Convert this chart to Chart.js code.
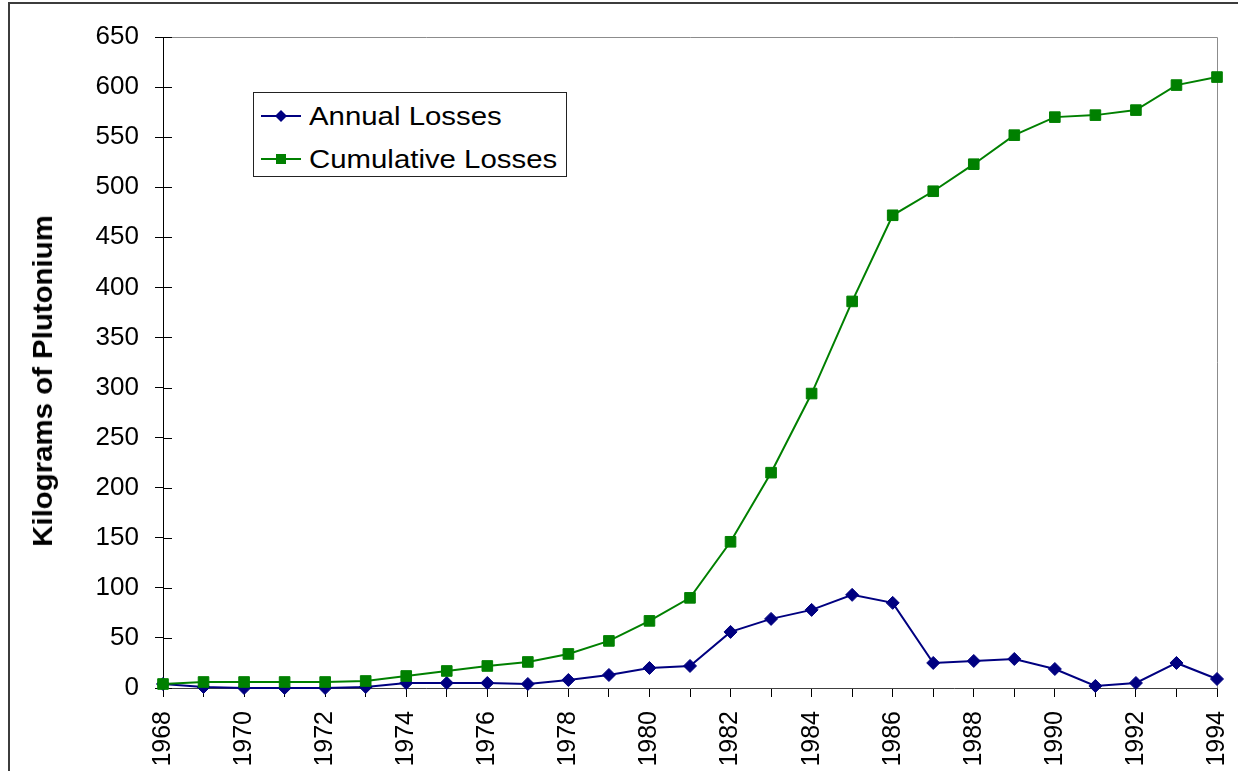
<!DOCTYPE html>
<html>
<head>
<meta charset="utf-8">
<title>Plutonium Losses</title>
<script src="https://cdn.jsdelivr.net/npm/chart.js@4/dist/chart.umd.min.js"></script>
<style>
  html, body { margin:0; padding:0; background:#fff; width:1238px; height:771px; overflow:hidden; }
  #wrap { position:relative; width:1238px; height:771px; overflow:hidden; font-family:"Liberation Sans", Arial, sans-serif; }
  /* outer frame, only left and top edges fall inside the view */
  #frame { position:absolute; left:8px; top:2px; width:1400px; height:900px;
           border-left:2px solid #3c3c3c; border-top:2px solid #3c3c3c; }
  #chartBox { position:absolute; left:0; top:0; width:1238px; height:800px; }
  #ytitle { position:absolute; left:43px; top:381px; white-space:nowrap;
            font-weight:bold; font-size:28px; color:#000;
            transform:translate(-50%,-50%) rotate(-90deg) scaleX(1.05); }
  #legend { position:absolute; left:253px; top:92px; width:312px; height:83px;
            border:1px solid #222; background:#fff; }
  #legend .row { position:absolute; left:0; height:30px; display:flex; align-items:center; }
  #legend svg { margin-left:7px; }
  #legend span { font-size:26px; color:#000; margin-left:8px; display:inline-block;
                 transform:scaleX(1.13); transform-origin:left center; white-space:nowrap; }
</style>
</head>
<body>
<div id="wrap">
  <div id="frame"></div>
  <div id="chartBox"><canvas id="lossChart" width="1238" height="800"></canvas></div>
  <div id="ytitle">Kilograms of Plutonium</div>
  <div id="legend">
    <div class="row" style="top:8px">
      <svg width="40" height="16"><line x1="0" y1="8" x2="40" y2="8" stroke="#000080" stroke-width="2"/>
        <polygon points="20,2 26,8 20,14 14,8" fill="#000080"/></svg>
      <span>Annual Losses</span>
    </div>
    <div class="row" style="top:51px">
      <svg width="40" height="16"><line x1="0" y1="8" x2="40" y2="8" stroke="#008000" stroke-width="2"/>
        <rect x="15" y="3" width="10" height="10" fill="#008000"/></svg>
      <span>Cumulative Losses</span>
    </div>
  </div>
</div>

<script>
// --- data ---
const years = ["1968","1969","1970","1971","1972","1973","1974","1975","1976","1977",
               "1978","1979","1980","1981","1982","1983","1984","1985","1986","1987",
               "1988","1989","1990","1991","1992","1993","1994"];
const annualLosses = [4, 1, 0, 0, 0, 1, 5, 5, 5, 4, 8, 13, 20, 22, 56, 69, 78, 93, 85,
                      25, 27, 29, 19, 2, 5, 25, 9];
const cumulativeLosses = [4, 6, 6, 6, 6, 7, 12, 17, 22, 26, 34, 47, 67, 90, 146, 215, 294,
                          386, 472, 496, 523, 552, 570, 572, 577, 602, 610];
const yTicks = [0, 50, 100, 150, 200, 250, 300, 350, 400, 450, 500, 550, 600, 650];

const FONT = "'Liberation Sans', Arial, sans-serif";

// plot frame (gray top/right edges) + inner half of the major y ticks
const frameTicks = {
  id: "frameTicks",
  beforeDatasetsDraw(chart) {
    const { ctx, chartArea: a, scales } = chart;
    ctx.save();
    ctx.strokeStyle = "#8c8c8c";
    ctx.lineWidth = 1;
    ctx.beginPath();
    ctx.moveTo(a.left, a.top + 0.5);
    ctx.lineTo(a.right + 0.5, a.top + 0.5);
    ctx.lineTo(a.right + 0.5, a.bottom);
    ctx.stroke();

    ctx.strokeStyle = "#000";
    ctx.beginPath();
    yTicks.forEach(v => {
      const y = Math.round(scales.y.getPixelForValue(v)) + 0.5;
      ctx.moveTo(a.left, y);
      ctx.lineTo(a.left + 9, y);
    });
    ctx.stroke();
    ctx.restore();
  }
};

const ctx = document.getElementById("lossChart").getContext("2d");
new Chart(ctx, {
  type: "line",
  data: {
    labels: years,
    datasets: [
      {
        label: "Annual Losses",
        data: annualLosses,
        borderColor: "#000080",
        backgroundColor: "#000080",
        borderWidth: 2,
        pointStyle: "rectRot",
        pointRadius: 6.5,
        pointBorderWidth: 1,
        tension: 0,
        clip: false,
        order: 1
      },
      {
        label: "Cumulative Losses",
        data: cumulativeLosses,
        borderColor: "#008000",
        backgroundColor: "#008000",
        borderWidth: 2,
        pointStyle: "rect",
        pointRadius: 7.5,
        pointBorderWidth: 1,
        tension: 0,
        clip: false,
        order: 0
      }
    ]
  },
  options: {
    responsive: false,
    animation: false,
    layout: { padding: { top: 37, right: 0, left: 0, bottom: 0 } },
    plugins: { legend: { display: false }, tooltip: { enabled: false } },
    scales: {
      x: {
        type: "category",
        offset: false,
        afterFit: s => { s.height = 112; s.paddingRight = 21; s.paddingLeft = 0; },
        grid: { display: true, drawOnChartArea: false, drawTicks: true, tickLength: 9, tickColor: "#000" },
        border: { display: true, color: "#404040", width: 1 },
        ticks: {
          autoSkip: false,
          minRotation: 90,
          maxRotation: 90,
          padding: 14,
          color: "#000",
          font: { family: FONT, size: 25 },
          callback: (val, i) => (i % 2 === 0 ? years[i] : "")
        }
      },
      y: {
        min: 0,
        max: 650,
        afterFit: s => { s.width = 163; },
        grid: { display: true, drawOnChartArea: false, drawTicks: true, tickLength: 8, tickColor: "#000" },
        border: { display: true, color: "#000", width: 1 },
        ticks: {
          stepSize: 25,
          padding: 16,
          color: "#000",
          font: { family: FONT, size: 26 },
          callback: v => (v % 50 === 0 ? v : "")
        }
      }
    }
  },
  plugins: [frameTicks]
});
</script>
</body>
</html>
